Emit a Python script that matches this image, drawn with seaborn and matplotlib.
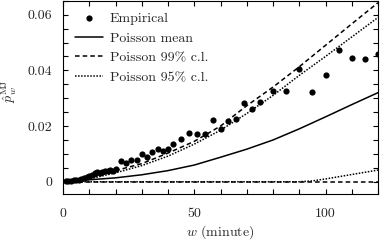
import numpy as np
import seaborn as sns
import matplotlib.pyplot as plt
from matplotlib.ticker import MultipleLocator

# empirical waiting-time probabilities
w_emp = [1, 2, 3, 4, 5, 6, 7, 8, 9, 10, 11, 12, 13, 14, 15, 16, 17, 18, 19, 20,
         22, 24, 26, 28, 30, 32, 34, 36, 38, 40,
         42, 45, 48, 51, 54, 57, 60, 63, 66, 69, 72, 75,
         80, 85, 90, 95, 100, 105, 110, 115, 120]
p_emp = [0.0002, 0.0003, 0.0003, 0.0005, 0.0006, 0.0008, 0.0010, 0.0012, 0.0016, 0.0020,
         0.0026, 0.0030, 0.0034, 0.0030, 0.0036, 0.0039, 0.0037, 0.0042, 0.0040, 0.0046,
         0.0073, 0.0068, 0.0077, 0.0079, 0.0098, 0.0089, 0.0108, 0.0116, 0.0112, 0.0119,
         0.0135, 0.0155, 0.0175, 0.0173, 0.0173, 0.0220, 0.0191, 0.0217, 0.0224, 0.0282, 0.0261, 0.0288,
         0.0327, 0.0327, 0.0406, 0.0324, 0.0385, 0.0474, 0.0446, 0.0441, 0.0459]

# Poisson model curves
w_curve = [0, 10, 20, 30, 40, 50, 60, 70, 80, 90, 100, 110, 120]
p_mean = [0.0, 0.0007, 0.0014, 0.0025, 0.0040, 0.0060, 0.0088, 0.0117, 0.0150, 0.0190, 0.0233, 0.0277, 0.0320]
p_up99 = [0.0, 0.0012, 0.0040, 0.0065, 0.0103, 0.0145, 0.0200, 0.0273, 0.0340, 0.0413, 0.0490, 0.0567, 0.0643]
p_up95 = [0.0, 0.0010, 0.0032, 0.0058, 0.0092, 0.0135, 0.0185, 0.0245, 0.0310, 0.0382, 0.0450, 0.0520, 0.0590]
p_lo99 = [0.0] * len(w_curve)
w_lo95 = [0, 90, 95, 100, 105, 110, 115, 120]
p_lo95 = [0.0, 0.0, 0.0003, 0.0010, 0.0018, 0.0026, 0.0034, 0.0042]

yticks = [0, 0.02, 0.04, 0.06]
ytick_labels = ["0", "0.02", "0.04", "0.06"]
xticks = [0, 50, 100]
xtick_labels = ["0", "50", "100"]

sns.set_style("ticks")
plt.rcParams['font.family'] = ['cmr10', 'DejaVu Serif']
plt.rcParams['mathtext.fontset'] = 'cm'
plt.rcParams['axes.unicode_minus'] = False

fig = plt.figure(figsize=(3.82, 2.44), dpi=100)
ax = fig.add_axes([63 / 382, 1 - 194 / 244, 315 / 382, 193.5 / 244])

sns.scatterplot(x=w_emp, y=p_emp, ax=ax, color='k', s=20, linewidth=0, label='Empirical', zorder=3)
sns.lineplot(x=w_curve, y=p_mean, ax=ax, color='k', lw=1.1, label='Poisson mean')
sns.lineplot(x=w_curve, y=p_up99, ax=ax, color='k', lw=1.1, ls=(0, (3, 2)), label='Poisson 99% c.l.')
sns.lineplot(x=w_curve, y=p_up95, ax=ax, color='k', lw=1.1, ls=(0, (1, 1)), label='Poisson 95% c.l.')
sns.lineplot(x=w_curve, y=p_lo99, ax=ax, color='k', lw=1.1, ls=(0, (3, 2)))
sns.lineplot(x=w_lo95, y=p_lo95, ax=ax, color='k', lw=1.1, ls=(0, (1, 1)))

ax.set_xlim(0, 120)
ax.set_ylim(-0.0044, 0.0651)
ax.set_xticks(xticks)
ax.set_xticklabels(xtick_labels)
ax.set_yticks(yticks)
ax.set_yticklabels(ytick_labels)
ax.xaxis.set_minor_locator(MultipleLocator(10))
ax.yaxis.set_minor_locator(MultipleLocator(0.005))
ax.tick_params(which='both', direction='in', top=True, right=True, length=3.5, width=0.8,
               labelsize=10, color='k')
ax.tick_params(axis='x', pad=10)
ax.tick_params(axis='y', pad=8)
for s in ax.spines.values():
    s.set_linewidth(0.8)
    s.set_color('k')

ax.set_xlabel(r'$w$ (minute)', fontsize=10, labelpad=2)
ax.set_ylabel(r'$\hat{p}_w^{\rm MJ}$', fontsize=10)
ax.yaxis.set_label_coords(-0.14, 0.53)

ax.legend(loc='upper left', frameon=False, fontsize=10, handlelength=2.0,
          handletextpad=0.5, labelspacing=0.5, bbox_to_anchor=(0.0, 1.0), borderaxespad=0.45)

fig.savefig('out.png', dpi=100)
